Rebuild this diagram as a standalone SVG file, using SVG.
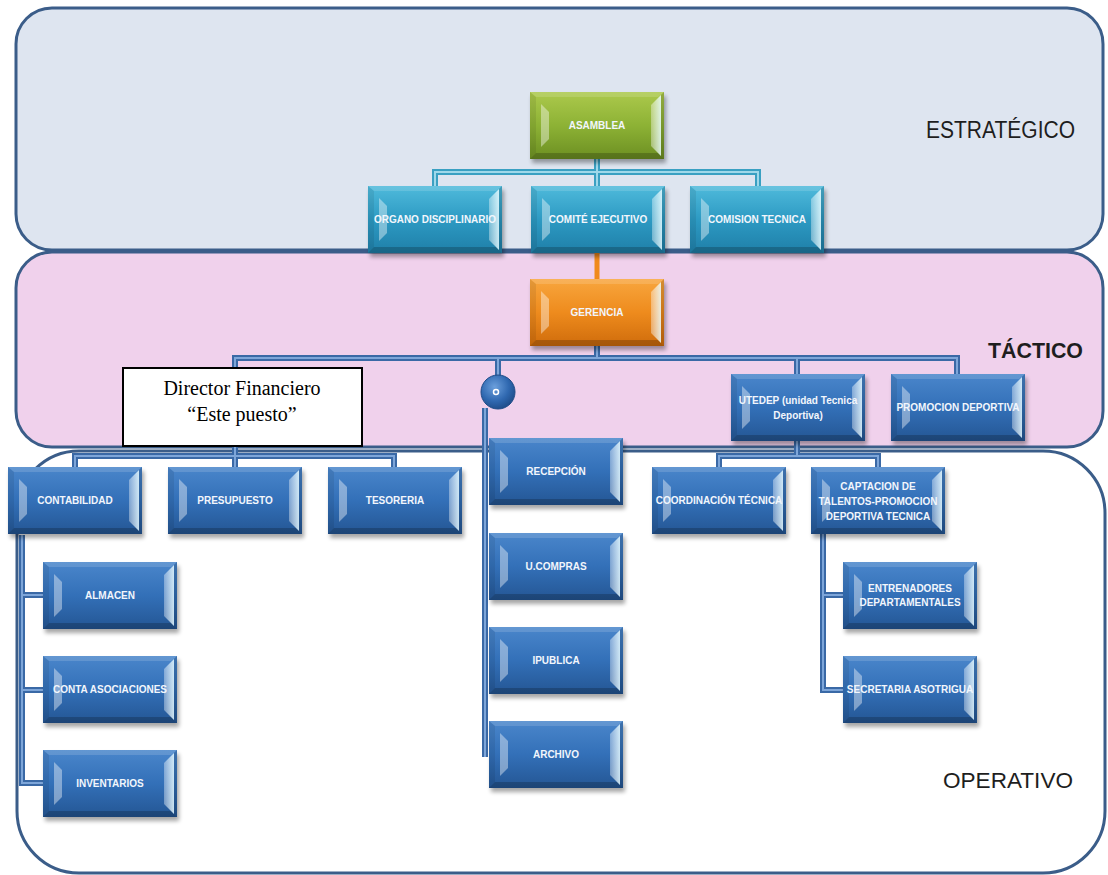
<svg xmlns="http://www.w3.org/2000/svg" xmlns:xlink="http://www.w3.org/1999/xlink" width="1108" height="875" viewBox="0 0 1108 875">
<style>
.band{stroke:#3b5d89;stroke-width:3}
.lbl{font-family:"Liberation Sans",Arial,sans-serif;font-weight:bold;font-size:10px;fill:#f2f6fc;text-anchor:middle}
.lvl{font-family:"Liberation Sans",Arial,sans-serif;fill:#1e1e1e}
.ser{font-family:"Liberation Serif","Times New Roman",serif;font-size:20px;fill:#000;text-anchor:middle}
.co{fill:none;stroke-linejoin:miter;stroke-linecap:butt}
.bo{stroke:#3a69a6;stroke-width:6}
.bi{stroke:#7ea6d9;stroke-width:2}
.cyo{stroke:#3aa0c2;stroke-width:6}
.cyi{stroke:#9fd8ea;stroke-width:2}
.or{stroke:#f08a1c;stroke-width:5}
</style>
<defs>
<linearGradient id="gBlue" x1="0" y1="0" x2="0" y2="1"><stop offset="0" stop-color="#4a86cb"/><stop offset="0.5" stop-color="#3370b8"/><stop offset="1" stop-color="#245694"/></linearGradient>
<linearGradient id="gCyan" x1="0" y1="0" x2="0" y2="1"><stop offset="0" stop-color="#4fbadb"/><stop offset="0.5" stop-color="#2d9ac3"/><stop offset="1" stop-color="#1f7fa8"/></linearGradient>
<linearGradient id="gGreen" x1="0" y1="0" x2="0" y2="1"><stop offset="0" stop-color="#acc94c"/><stop offset="0.5" stop-color="#8db235"/><stop offset="1" stop-color="#6c8f22"/></linearGradient>
<linearGradient id="gOrange" x1="0" y1="0" x2="0" y2="1"><stop offset="0" stop-color="#f8a63e"/><stop offset="0.5" stop-color="#ee8b1d"/><stop offset="1" stop-color="#cf6c0c"/></linearGradient>
<linearGradient id="hiR" x1="0" y1="0" x2="1" y2="0"><stop offset="0" stop-color="#ffffff" stop-opacity="0.35"/><stop offset="1" stop-color="#e8fbff" stop-opacity="0.85"/></linearGradient>
<radialGradient id="gBall" cx="0.4" cy="0.35" r="0.7"><stop offset="0" stop-color="#6b9fdc"/><stop offset="0.6" stop-color="#2f68b0"/><stop offset="1" stop-color="#1d4a86"/></radialGradient>
<filter id="sh" x="-20%" y="-20%" width="140%" height="150%"><feGaussianBlur stdDeviation="2"/></filter>
<g id="shadow"><rect x="2" y="4" width="134" height="67" fill="#000" opacity="0.35" filter="url(#sh)"/></g>
<g id="bevel">
<polygon points="0,0 134,0 128,5 6,5" fill="#fff" opacity="0.14"/>
<polygon points="0,67 134,67 128,61 6,61" fill="#000" opacity="0.2"/>
<polygon points="0,0 6,5 6,61 0,67" fill="#000" opacity="0.08"/>
<polygon points="11,12 19,20 19,47 11,55" fill="#fff" opacity="0.4"/>
<polygon points="121,13 131,3 131,64 121,54" fill="url(#hiR)"/>
<polygon points="131,3 134,0 134,67 131,64" fill="#000" opacity="0.15"/>
</g>
</defs>

<g id="bands">
<rect id="estrategico" class="band" x="16" y="8" width="1087" height="242" rx="36" fill="#dee5f0"/>
<rect id="tactico" class="band" x="16" y="252" width="1087" height="195" rx="36" fill="#f0d1ec"/>
<rect id="operativo" class="band" x="17" y="451" width="1088" height="422" rx="62" fill="#ffffff"/>
<text class="lvl" x="926" y="138" font-size="23" textLength="149" lengthAdjust="spacingAndGlyphs">ESTRATÉGICO</text>
<text class="lvl" x="988" y="358" font-size="22" font-weight="bold" fill="#111" textLength="95" lengthAdjust="spacingAndGlyphs">TÁCTICO</text>
<text class="lvl" x="943" y="788" font-size="22" textLength="130" lengthAdjust="spacingAndGlyphs">OPERATIVO</text>
</g>

<g id="connectors">
<path id="c1" class="co cyo" d="M597,158 V172 M435,186 V172 H758 V186 M597,172 V186"/>
<path class="co cyi" d="M597,158 V172 M435,186 V172 H758 V186 M597,172 V186"/>
<path class="co or" d="M597,253 V280"/>
<path class="co bo" d="M597,345 V358 M235,456 V358 H957 V375 M498,358 V376 M797,358 V375"/>
<path class="co bo" d="M75,467 V456 H394 V467 M235,456 V467"/>
<path class="co bo" d="M22,535 V783 H43 M22,595 H43 M22,690 H43"/>
<path class="co bo" d="M485,408 V757"/>
<path class="co bo" d="M797,440 V456 M719,468 V456 H878 V468"/>
<path class="co bo" d="M823,533 V690 H843 M823,595 H843"/>
<path class="co bi" d="M597,345 V358 M235,456 V358 H957 V375 M498,358 V376 M797,358 V375"/>
<path class="co bi" d="M75,467 V456 H394 V467 M235,456 V467"/>
<path class="co bi" d="M22,535 V783 H43 M22,595 H43 M22,690 H43"/>
<path class="co bi" d="M485,408 V757"/>
<path class="co bi" d="M797,440 V456 M719,468 V456 H878 V468"/>
<path class="co bi" d="M823,533 V690 H843 M823,595 H843"/>
</g>

<g id="n-asamblea" transform="translate(530,92)"><use href="#shadow"/><rect width="134" height="67" fill="url(#gGreen)"/><use href="#bevel"/><text class="lbl" x="67" y="37">ASAMBLEA</text></g>
<g id="n-organo" transform="translate(368,186)"><use href="#shadow"/><rect width="134" height="67" fill="url(#gCyan)"/><use href="#bevel"/><text class="lbl" x="67" y="37">ORGANO DISCIPLINARIO</text></g>
<g id="n-comite" transform="translate(531,186)"><use href="#shadow"/><rect width="134" height="67" fill="url(#gCyan)"/><use href="#bevel"/><text class="lbl" x="67" y="37">COMITÉ EJECUTIVO</text></g>
<g id="n-comision" transform="translate(690,186)"><use href="#shadow"/><rect width="134" height="67" fill="url(#gCyan)"/><use href="#bevel"/><text class="lbl" x="67" y="37">COMISION TECNICA</text></g>
<g id="n-gerencia" transform="translate(530,279)"><use href="#shadow"/><rect width="134" height="67" fill="url(#gOrange)"/><use href="#bevel"/><text class="lbl" x="67" y="37">GERENCIA</text></g>

<g id="n-director"><rect x="123" y="368" width="239" height="78" fill="#fff" stroke="#000" stroke-width="2"/><text class="ser" x="242" y="395">Director Financiero</text><text class="ser" x="242" y="421">“Este puesto”</text></g>

<g id="n-circulo"><circle cx="498" cy="392" r="17" fill="url(#gBall)" stroke="#1f4c88" stroke-width="1"/><circle cx="496" cy="392" r="2.5" fill="none" stroke="#fff" stroke-width="1.5"/></g>

<g id="n-utedep" transform="translate(731,374)"><use href="#shadow"/><rect width="134" height="67" fill="url(#gBlue)"/><use href="#bevel"/><text class="lbl" x="67" y="30">UTEDEP (unidad Tecnica</text><text class="lbl" x="67" y="45">Deportiva)</text></g>
<g id="n-promocion" transform="translate(891,374)"><use href="#shadow"/><rect width="134" height="67" fill="url(#gBlue)"/><use href="#bevel"/><text class="lbl" x="67" y="37">PROMOCION DEPORTIVA</text></g>

<g id="n-contabilidad" transform="translate(8,467)"><use href="#shadow"/><rect width="134" height="67" fill="url(#gBlue)"/><use href="#bevel"/><text class="lbl" x="67" y="37">CONTABILIDAD</text></g>
<g id="n-presupuesto" transform="translate(168,467)"><use href="#shadow"/><rect width="134" height="67" fill="url(#gBlue)"/><use href="#bevel"/><text class="lbl" x="67" y="37">PRESUPUESTO</text></g>
<g id="n-tesoreria" transform="translate(328,467)"><use href="#shadow"/><rect width="134" height="67" fill="url(#gBlue)"/><use href="#bevel"/><text class="lbl" x="67" y="37">TESORERIA</text></g>

<g id="n-almacen" transform="translate(43,562)"><use href="#shadow"/><rect width="134" height="67" fill="url(#gBlue)"/><use href="#bevel"/><text class="lbl" x="67" y="37">ALMACEN</text></g>
<g id="n-conta-asoc" transform="translate(43,656)"><use href="#shadow"/><rect width="134" height="67" fill="url(#gBlue)"/><use href="#bevel"/><text class="lbl" x="67" y="37">CONTA ASOCIACIONES</text></g>
<g id="n-inventarios" transform="translate(43,750)"><use href="#shadow"/><rect width="134" height="67" fill="url(#gBlue)"/><use href="#bevel"/><text class="lbl" x="67" y="37">INVENTARIOS</text></g>

<g id="n-recepcion" transform="translate(489,438)"><use href="#shadow"/><rect width="134" height="67" fill="url(#gBlue)"/><use href="#bevel"/><text class="lbl" x="67" y="37">RECEPCIÓN</text></g>
<g id="n-ucompras" transform="translate(489,533)"><use href="#shadow"/><rect width="134" height="67" fill="url(#gBlue)"/><use href="#bevel"/><text class="lbl" x="67" y="37">U.COMPRAS</text></g>
<g id="n-ipublica" transform="translate(489,627)"><use href="#shadow"/><rect width="134" height="67" fill="url(#gBlue)"/><use href="#bevel"/><text class="lbl" x="67" y="37">IPUBLICA</text></g>
<g id="n-archivo" transform="translate(489,721)"><use href="#shadow"/><rect width="134" height="67" fill="url(#gBlue)"/><use href="#bevel"/><text class="lbl" x="67" y="37">ARCHIVO</text></g>

<g id="n-coordinacion" transform="translate(652,467)"><use href="#shadow"/><rect width="134" height="67" fill="url(#gBlue)"/><use href="#bevel"/><text class="lbl" x="67" y="37">COORDINACIÓN TÉCNICA</text></g>
<g id="n-captacion" transform="translate(811,467)"><use href="#shadow"/><rect width="134" height="67" fill="url(#gBlue)"/><use href="#bevel"/><text class="lbl" x="67" y="23">CAPTACION DE</text><text class="lbl" x="67" y="38">TALENTOS-PROMOCION</text><text class="lbl" x="67" y="53">DEPORTIVA TECNICA</text></g>
<g id="n-entrenadores" transform="translate(843,562)"><use href="#shadow"/><rect width="134" height="67" fill="url(#gBlue)"/><use href="#bevel"/><text class="lbl" x="67" y="30">ENTRENADORES</text><text class="lbl" x="67" y="44">DEPARTAMENTALES</text></g>
<g id="n-secretaria" transform="translate(843,656)"><use href="#shadow"/><rect width="134" height="67" fill="url(#gBlue)"/><use href="#bevel"/><text class="lbl" x="67" y="37">SECRETARIA ASOTRIGUA</text></g>
</svg>
